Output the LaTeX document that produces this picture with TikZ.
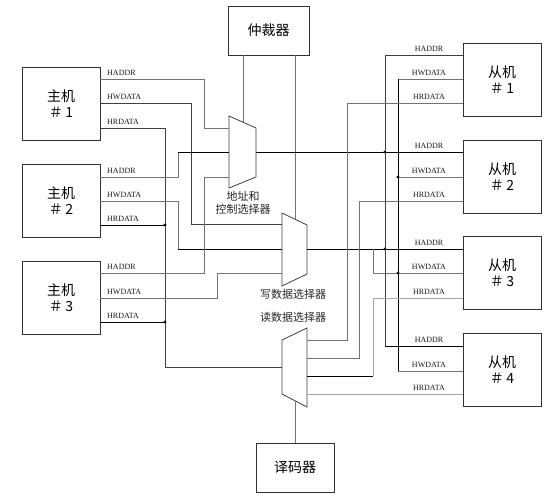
\documentclass[tikz,border=0pt]{standalone}
\usepackage{fontspec}
\setmainfont{Liberation Serif}
\newfontfamily\cjk{Noto Sans CJK SC}
\definecolor{wdark}{gray}{0.25}
\definecolor{wgray}{gray}{0.45}
\definecolor{wlight}{gray}{0.65}
\begin{document}
\begin{tikzpicture}[x=1pt,y=-1pt,
  box/.style={draw=black!80, line width=0.8pt, minimum width=78pt, minimum height=73pt, inner sep=0pt, align=center, font=\cjk\fontsize{14}{16}\selectfont},
  wire/.style={line width=0.75pt, draw=wgray},
  dwire/.style={line width=0.75pt, draw=wdark},
  bwire/.style={line width=0.75pt, draw=black},
  lwire/.style={line width=0.75pt, draw=wlight},
  muxshape/.style={line width=0.8pt, draw=black!75},
  lab/.style={font=\fontsize{8}{9}\selectfont, inner sep=0pt, text=black!90},
  mlab/.style={font=\cjk\fontsize{11}{13}\selectfont, inner sep=0pt, align=center, text=black!85},
  jdot/.style={circle, fill=black, inner sep=0pt, minimum size=3.2pt}
]
\useasboundingbox (0,0) rectangle (554,498);

% blocks
\node[box] (m1) at (61,103.5) {主机\\＃\,1};
\node[box] (m2) at (61,201) {主机\\＃\,2};
\node[box] (m3) at (61,298) {主机\\＃\,3};
\node[box] (s1) at (502,79.5) {从机\\＃\,1};
\node[box] (s2) at (502,176.5) {从机\\＃\,2};
\node[box] (s3) at (502,273) {从机\\＃\,3};
\node[box] (s4) at (502,370) {从机\\＃\,4};
\node[box, minimum width=81pt, minimum height=49pt] (arb) at (268.5,30.5) {仲裁器};
\node[box, minimum width=78pt, minimum height=49pt] (dec) at (295,467.5) {译码器};

% multiplexers
\coordinate (am-tl) at (229,116); \coordinate (am-bl) at (229,188);
\coordinate (am-tr) at (256,128); \coordinate (am-br) at (256,177);
\draw[muxshape] (am-tl) -- (am-tr) -- (am-br) -- (am-bl) -- cycle;
\coordinate (wm-tl) at (282,213); \coordinate (wm-bl) at (282,286);
\coordinate (wm-tr) at (307,225); \coordinate (wm-br) at (307,274);
\draw[muxshape] (wm-tl) -- (wm-tr) -- (wm-br) -- (wm-bl) -- cycle;
\coordinate (rm-tl) at (282,340); \coordinate (rm-bl) at (282,394);
\coordinate (rm-tr) at (307,328); \coordinate (rm-br) at (307,407);
\draw[muxshape] (rm-tl) -- (rm-tr) -- (rm-br) -- (rm-bl) -- cycle;

\node[mlab] (aml) at (243,203) {地址和\\控制选择器};
\node[mlab] (wml) at (293,294) {写数据选择器};
\node[mlab] (rml) at (293,317) {读数据选择器};

% pins
\coordinate (m1a) at (100,79);  \coordinate (m1w) at (100,103); \coordinate (m1r) at (100,128);
\coordinate (m2a) at (100,177); \coordinate (m2w) at (100,201); \coordinate (m2r) at (100,225);
\coordinate (m3a) at (100,273); \coordinate (m3w) at (100,298); \coordinate (m3r) at (100,322);
\coordinate (s1a) at (463,55);  \coordinate (s1w) at (463,79);  \coordinate (s1r) at (463,103);
\coordinate (s2a) at (463,152); \coordinate (s2w) at (463,177); \coordinate (s2r) at (463,201);
\coordinate (s3a) at (463,249); \coordinate (s3w) at (463,273); \coordinate (s3r) at (463,298);
\coordinate (s4a) at (463,346); \coordinate (s4w) at (463,371); \coordinate (s4r) at (463,394);
\coordinate (ai1) at (229,128); \coordinate (ai2) at (229,152); \coordinate (ai3) at (229,177);
\coordinate (ao) at (256,152);
\coordinate (wi1) at (282,224); \coordinate (wi2) at (282,249); \coordinate (wi3) at (282,273);
\coordinate (wo) at (307,249);
\coordinate (ri1) at (307,340); \coordinate (ri2) at (307,358); \coordinate (ri3) at (307,376); \coordinate (ri4) at (307,394);
\coordinate (ro) at (282,367);
\coordinate (amtop) at (243,122.2);
\coordinate (wmtop) at (295,219.2);
\coordinate (rmbot) at (295,400.8);

% arbiter and decoder links
\draw[wire] (amtop |- arb.south) -- (amtop);
\draw[wire] (wmtop |- arb.south) -- (wmtop);
\draw[wire] (rmbot |- dec.north) -- (rmbot);

% master side wires
\draw[wire] (m1a) -- (204,79) |- (ai1);
\draw[dwire] (m1w) -- (191,103) |- (wi1);
\draw[dwire] (m1r) -- (165,128) |- (ro);
\draw[wire] (m2a) -- (178,177) -- (178,152);
\draw[bwire] (178,152) -- (ai2);
\draw[wire] (m2w) -- (178,201) -- (178,249);
\draw[bwire] (178,249) -- (wi2);
\draw[bwire] (m2r) -- (165,225) node[jdot] {};
\draw[wire] (m3a) -- (204,273) |- (ai3);
\draw[wire] (m3w) -- (217,298) |- (wi3);
\draw[bwire] (m3r) -- (165,322) node[jdot] {};

% slave side wires
\draw[bwire] (ao) -- (s2a);
\node[jdot] at (385,152) {};
\draw[bwire] (wo) -- (s3a);
\node[jdot] at (385,249) {};
\draw[wire] (373,249) |- (s3w);
\node[jdot] at (398,273) {};
\draw[dwire] (s1a) -- (385,55) -- (385,346);
\draw[bwire] (385,346) -- (s4a);
\draw[wire] (s1w) -- (398,79);
\draw[bwire] (398,79) -- (398,371);
\draw[wire] (398,371) -- (s4w);
\draw[wire] (398,177) -- (s2w);
\node[jdot] at (398,177) {};
\draw[wire] (s1r) -- (347,103) |- (ri1);
\draw[wire] (s2r) -- (359.5,201) |- (ri2);
\draw[lwire] (s3r) -- (373,298) -- (373,376);
\draw[bwire] (373,376) -- (ri3);
\draw[lwire] (s4r) -- (ri4);

% labels master side
\foreach \y/\t in {79/HADDR,103/HWDATA,128/HRDATA,177/HADDR,201/HWDATA,225/HRDATA,273/HADDR,298/HWDATA,322/HRDATA}
  \node[lab, anchor=base west] at (107,\y-4) {\t};
% labels slave side
\foreach \y/\t in {55/HADDR,79/HWDATA,103/HRDATA,152/HADDR,177/HWDATA,201/HRDATA,249/HADDR,273/HWDATA,298/HRDATA,346/HADDR,371/HWDATA,394/HRDATA}
  \node[lab, anchor=base] at (429,\y-4) {\t};
\end{tikzpicture}
\end{document}
